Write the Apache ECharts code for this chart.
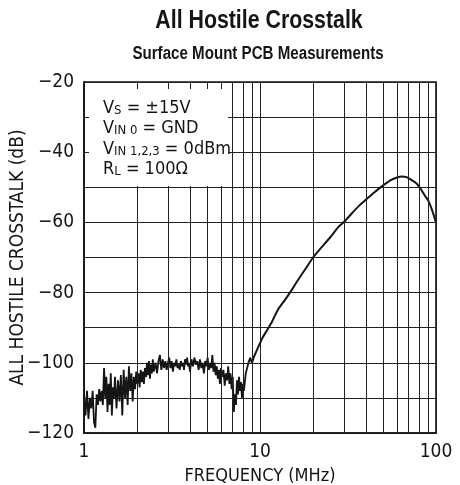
<!DOCTYPE html>
<html><head><meta charset="utf-8">
<script src="https://cdn.jsdelivr.net/npm/echarts@6/dist/echarts.min.js"></script>
<style>html,body{margin:0;padding:0;background:#fff}#c{width:460px;height:485px}</style>
</head><body><div id="c"></div><script>
const titleText = 'All Hostile Crosstalk';
const subtitleText = 'Surface Mount PCB Measurements';
const xAxisName = 'FREQUENCY (MHz)';
const yAxisName = 'ALL HOSTILE CROSSTALK (dB)';
const xMinorGrid = [2,3,4,5,6,7,8,9,20,30,40,50,60,70,80,90];
const conditionLines = [
  ['V','S',' = \u00b115V'],
  ['V','IN 0',' = GND'],
  ['V','IN 1,2,3',' = 0dBm'],
  ['R','L',' = 100\u03a9']
];
// noisy low-frequency part (MHz, dB)
const noiseFreq = [
 1.00,1.02,1.04,1.06,1.08,1.10,1.12,1.14,1.16,1.18,1.20,1.22,1.24,1.26,1.28,1.30,1.32,1.34,1.36,1.38,1.40,1.42,1.44,1.46,1.48,1.50,
 1.53,1.56,1.59,1.62,1.65,1.68,1.71,1.74,1.77,1.80,1.83,1.86,1.89,1.92,1.95,1.98,2.01,2.04,2.07,2.10,2.13,2.16,2.19,2.22,2.25,2.28,2.31,2.34,2.37,2.40,2.43,2.46,2.49,
 2.55,2.60,2.65,2.70,2.75,2.80,2.85,2.90,2.95,3.00,3.05,3.10,3.15,3.20,3.25,3.30,3.35,3.40,3.45,3.50,3.55,3.60,3.65,3.70,3.75,3.80,3.85,3.90,3.95,4.00,
 4.08,4.16,4.24,4.32,4.40,4.48,4.56,4.64,4.72,4.80,4.88,4.96,5.04,5.12,5.20,5.28,5.36,5.44,5.52,5.60,5.68,5.76,5.84,5.92,6.00,
 6.1,6.2,6.3,6.4,6.5,6.6,6.7,6.8,6.9,7.0,7.1,7.2,7.3,7.4,7.5,7.6,7.7,7.8,7.9,8.0,8.1,8.2,8.3,8.4,8.6
];
const noiseDb = [
 -109,-115,-108,-116,-110,-113,-108,-117,-118.5,-109,-112,-107.5,-111,-108,-112,-101.5,-110,-104,-114,-106,-112,-103,-115,-107,-110,-104,
 -113,-105,-111,-103.5,-115,-102,-110,-104,-112,-101,-108,-103,-111,-104,-107.5,-102.5,-106,-103,-107,-102,-105.5,-102.5,-106,-101.5,-104,-100,-103.5,-99.5,-104.5,-100.5,-103,-99,-102.5,
 -100,-103,-99.5,-97.8,-102,-99,-101.5,-99.5,-102,-100,-98.5,-101.5,-99.5,-102.5,-100,-101,-99,-101.5,-100.5,-102,-99.5,-101,-100,-102,-99,-100.5,-98.5,-101,-100,-102.5,
 -99,-101,-98.5,-100.5,-99.5,-102,-99,-101.5,-100,-103,-99.5,-101,-98.5,-102,-100,-101.5,-97.8,-102.5,-100,-103.5,-101,-104.5,-102,-106,-101.5,
 -104,-102,-106.5,-103,-105,-101,-106,-103,-107.5,-104,-114,-109,-112,-105,-109,-104,-108,-105.5,-110,-106,-108,-107.5,-103,-102,-100
];
// smooth rising part (MHz, dB)
const riseFreq = [8.6,8.8,9.0,9.2,9.6,10,10.3,11,11.7,12.6,13.9,14.8,16.4,18,20,22,25,28,30.4,33,37,40,45,49,55,60,64,68,72,77.6,82,86,90.4,95,100];
const riseDb   = [-100,-98.6,-100,-98.5,-96.4,-94.4,-93,-90.6,-88.3,-85,-82,-80,-76.5,-73.5,-70,-67.5,-64.3,-61.2,-59.6,-57.6,-55,-53.5,-51.3,-49.8,-48,-47.2,-46.9,-47.1,-47.8,-48.9,-50.5,-52.2,-53.8,-56.5,-60];

const FONT = "'DejaVu Sans Condensed','Liberation Sans',sans-serif";
const HFONT = "'Liberation Sans','Arial',sans-serif";
const INK = '#151515';
const noiseData = noiseFreq.map((f,i)=>[f,noiseDb[i]]);
const riseData = riseFreq.map((f,i)=>[f,riseDb[i]]);
const condText = conditionLines.map(l => '{m|'+l[0]+'}{s|'+l[1]+'}{m|'+l[2]+'}').join('\n');

const chart = echarts.init(document.getElementById('c'), null, {renderer:'canvas'});
chart.setOption({
  animation:false,
  backgroundColor:'#fff',
  textStyle:{fontFamily:FONT,color:INK},
  grid:{left:84,right:24,top:82,bottom:52,containLabel:false,outerBoundsMode:'none',show:true,borderColor:INK,borderWidth:1.6,backgroundColor:'transparent'},
  xAxis:{type:'log',logBase:10,min:1,max:100,
    name:xAxisName,nameLocation:'middle',nameGap:31,nameTextStyle:{fontSize:18,color:INK,fontFamily:FONT},
    axisLine:{show:true,lineStyle:{color:INK,width:1.6}},axisTick:{show:false},
    axisLabel:{fontSize:19,color:INK,fontFamily:FONT,margin:10,formatter:v=>String(v)},
    splitLine:{show:true,lineStyle:{color:'#222',width:1}}},
  yAxis:{type:'value',min:-120,max:-20,interval:10,
    name:yAxisName,nameLocation:'middle',nameGap:56,nameRotate:90,nameMoveOverlap:false,nameTextStyle:{fontSize:19,color:INK,fontFamily:FONT},
    axisLine:{show:true,lineStyle:{color:INK,width:1.6}},axisTick:{show:false},
    axisLabel:{fontSize:19,color:INK,fontFamily:FONT,margin:10,formatter:v=>(v%20===0?'\u2212'+Math.abs(v):'')},
    splitLine:{show:true,lineStyle:{color:'#222',width:1}}},
  series:[
    {type:'line',data:[],silent:true,z:1,
     markLine:{silent:true,symbol:'none',animation:false,label:{show:false},
       lineStyle:{color:'#222',width:1,type:'solid'},emphasis:{disabled:true},
       data:xMinorGrid.map(v=>({xAxis:v}))}},
    {type:'line',data:noiseData,showSymbol:false,symbol:'none',z:3,silent:true,
     lineStyle:{color:INK,width:1.8}},
    {type:'line',data:riseData,showSymbol:false,symbol:'none',z:3,silent:true,smooth:0.2,
     lineStyle:{color:INK,width:2}}
  ],
  graphic:[
    {type:'text',x:259,y:21,z:100,scaleX:0.82,style:{text:titleText,fill:INK,font:"bold 26px "+HFONT,align:'center',verticalAlign:'middle'}},
    {type:'text',x:258,y:54,z:100,scaleX:0.84,style:{text:subtitleText,fill:INK,font:"bold 18px "+HFONT,align:'center',verticalAlign:'middle'}},
    {type:'rect',z:100,shape:{x:89,y:89,width:139,height:97},style:{fill:'#fff'}},
    {type:'text',x:103,y:96.5,z:101,style:{text:condText,fill:INK,align:'left',verticalAlign:'top',
      rich:{m:{fontSize:18,fontFamily:FONT,lineHeight:20.5,verticalAlign:'bottom',fill:INK},
            s:{fontSize:13,fontFamily:FONT,lineHeight:9,verticalAlign:'bottom',fill:INK}}}}
  ]
});
</script></body></html>
